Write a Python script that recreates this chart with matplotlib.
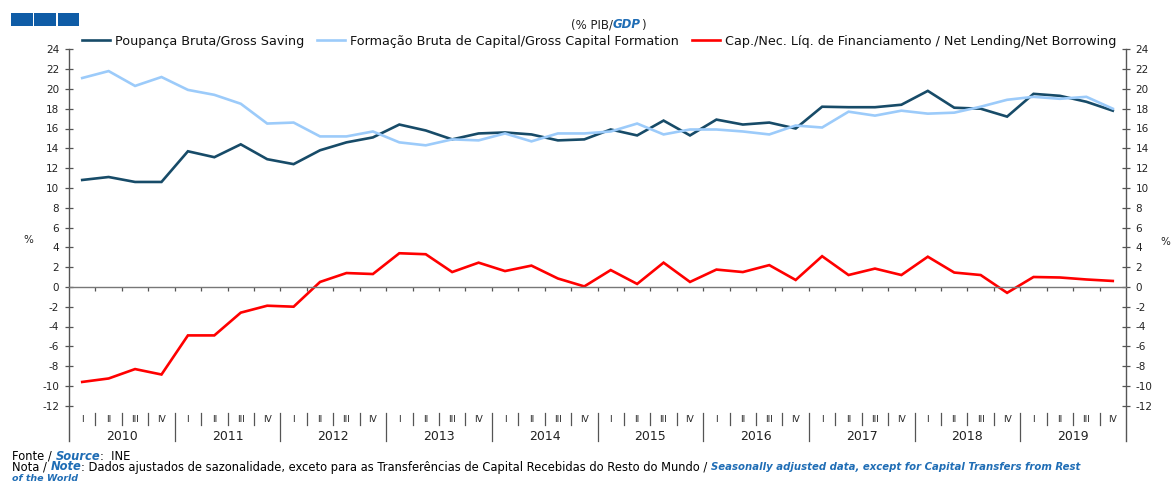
import matplotlib
matplotlib.use("Agg")
import matplotlib.pyplot as plt
from matplotlib.patches import Rectangle
import matplotlib.transforms as mtransforms

years = [str(y) for y in range(2010, 2020)]
quarters = ["I", "II", "III", "IV"]

gross_saving = [10.8, 11.1, 10.6, 10.6,
                13.7, 13.1, 14.4, 12.9,
                12.4, 13.8, 14.6, 15.1,
                16.4, 15.8, 14.9, 15.5,
                15.6, 15.4, 14.8, 14.9,
                15.9, 15.3, 16.8, 15.3,
                16.9, 16.4, 16.6, 16.0,
                18.2, 18.15, 18.15, 18.4,
                19.8, 18.1, 18.0, 17.2,
                19.5, 19.3, 18.7, 17.8]
gross_capital_formation = [21.1, 21.8, 20.3, 21.2,
                           19.9, 19.4, 18.5, 16.5,
                           16.6, 15.2, 15.2, 15.7,
                           14.6, 14.3, 14.9, 14.8,
                           15.5, 14.7, 15.5, 15.5,
                           15.7, 16.5, 15.4, 15.9,
                           15.9, 15.7, 15.4, 16.3,
                           16.1, 17.7, 17.3, 17.8,
                           17.5, 17.6, 18.2, 18.9,
                           19.2, 19.0, 19.2, 18.0]
net_lending = [-9.6, -9.25, -8.3, -8.85,
               -4.9, -4.9, -2.6, -1.9,
               -2.0, 0.5, 1.4, 1.3,
               3.4, 3.3, 1.5, 2.45,
               1.6, 2.15, 0.85, 0.05,
               1.7, 0.3, 2.45, 0.5,
               1.75, 1.5, 2.2, 0.7,
               3.1, 1.2, 1.85, 1.2,
               3.05, 1.45, 1.2, -0.6,
               1.0, 0.95, 0.75, 0.6]

labels = ["Poupança Bruta/Gross Saving",
          "Formação Bruta de Capital/Gross Capital Formation",
          "Cap./Nec. Líq. de Financiamento / Net Lending/Net Borrowing"]
colors = ["#174B68", "#9CCBFA", "#FF0000"]

plt.rcParams['font.family'] = ['DejaVu Sans']
plt.rcParams['axes.unicode_minus'] = False

W, H = 1174, 483
fig = plt.figure(figsize=(W / 100, H / 100), dpi=100)

ax_l, ax_r = 69 / W, 1126 / W
ax_t, ax_b = 1 - 49.3 / H, 1 - 405.7 / H
ax = fig.add_axes([ax_l, ax_b, ax_r - ax_l, ax_t - ax_b])

n = len(gross_saving)
x = list(range(n))
for series, lab, c in zip([gross_saving, gross_capital_formation, net_lending], labels, colors):
    ax.plot(x, series, color=c, lw=1.9, label=lab, solid_joinstyle='miter')

ax.set_xlim(-0.5, n - 0.5)
ax.set_ylim(-12, 24)
ax.set_yticks(range(-12, 25, 2))
spine_col = "#555555"
ax.spines['top'].set_visible(False)
ax.spines['left'].set_visible(False)
ax.spines['right'].set_visible(False)
ax.spines['bottom'].set_position(('data', 0))
ax.spines['bottom'].set_color("#777777")
ax.spines['bottom'].set_linewidth(1.0)
ax.set_xticks([k - 0.5 for k in range(1, n)])
ax.tick_params(axis='x', direction='out', length=3, color="#555555", labelbottom=False, width=0.9)
ax.tick_params(axis='y', direction='inout', length=6, color=spine_col, width=0.9,
               left=True, right=True, labelleft=True, labelright=True,
               labelsize=7.5, pad=4, labelcolor="#222222")

# vertical axis lines extending down to the category band
ybot = (405.7 - 441) / 356.4
for xa in (0, 1):
    ax.plot([xa, xa], [1, ybot], transform=ax.transAxes, color=spine_col, lw=1.0, clip_on=False)

# category band below plot
trans = mtransforms.blended_transform_factory(ax.transData, ax.transAxes)
y_sep_top = (405.7 - 413) / 356.4
y_sep_short = (405.7 - 425) / 356.4
y_q = (405.7 - 419) / 356.4
y_y = (405.7 - 437) / 356.4
for k in range(1, n):
    bx = k - 0.5
    yb = ybot if k % 4 == 0 else y_sep_short
    ax.plot([bx, bx], [y_sep_top, yb], transform=trans, color=spine_col, lw=0.9, clip_on=False)
for i in range(n):
    ax.text(i, y_q, quarters[i % 4], transform=trans, ha='center', va='center',
            fontsize=6.5, color="#222222")
for j, yr in enumerate(years):
    ax.text(4 * j + 1.5, y_y, yr, transform=trans, ha='center', va='center',
            fontsize=9, color="#222222")

# legend
leg = ax.legend(loc='center left', bbox_to_anchor=(82 / W, 1 - 41 / H),
                bbox_transform=fig.transFigure, ncol=3, frameon=False,
                fontsize=9.2, handlelength=2.2, handletextpad=0.4, columnspacing=1.0,
                borderaxespad=0, borderpad=0)
for t in leg.get_texts():
    t.set_color("#111111")

# percent labels
fig.text(28 / W, 1 - 240 / H, "%", ha='center', va='center', fontsize=7.5, color="#222222")
fig.text(1165 / W, 1 - 242 / H, "%", ha='center', va='center', fontsize=7.5, color="#222222")

# blue squares top-left
for k in range(3):
    fig.patches.append(Rectangle(((11 + k * 23.3) / W, 1 - 26 / H), 21.5 / W, 13 / H,
                                 transform=fig.transFigure, color="#0F5CA6", lw=0))

renderer = fig.canvas.get_renderer()

def seq_text(x0, y0, pieces, ha='left'):
    objs = []
    widths = []
    for s, style, fs in pieces:
        t = fig.text(0, y0, s, va='center', ha='left', fontsize=fs, **style)
        objs.append(t)
        widths.append(t.get_window_extent(renderer=renderer).width / W)
    total = sum(widths)
    xx = x0 - total / 2 if ha == 'center' else x0
    for t, w in zip(objs, widths):
        t.set_x(xx)
        xx += w

blue = "#1F6DB5"
bi = dict(color=blue, style='italic', weight='bold')
seq_text(608 / W, 1 - 25 / H, [("(% PIB/", dict(color="#222222"), 8.5),
                              ("GDP", bi, 8.5),
                              (")", dict(color="#222222"), 8.5)], ha='center')

foot = 8.3
seq_text(12 / W, 1 - 456 / H, [("Fonte / ", dict(color="black"), foot),
                              ("Source", bi, foot),
                              (":  INE", dict(color="black"), foot)])
seq_text(12 / W, 1 - 467 / H, [("Nota / ", dict(color="black"), foot),
                              ("Note", bi, foot),
                              (": Dados ajustados de sazonalidade, exceto para as Transferências de Capital Recebidas do Resto do Mundo / ", dict(color="black"), foot),
                              ("Seasonally adjusted data, except for Capital Transfers from Rest", bi, 7.3)])
seq_text(12 / W, 1 - 478.5 / H, [("of the World", bi, 6.8)])

fig.savefig("out.png", dpi=100)
